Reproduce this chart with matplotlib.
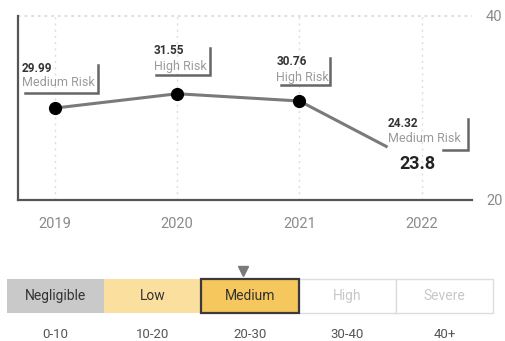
import matplotlib
matplotlib.use("Agg")
import matplotlib.pyplot as plt
import matplotlib.transforms as mtransforms

plt.rcParams['font.family'] = ['Roboto', 'DejaVu Sans']

# ---- data ----
years = [2019, 2020, 2021, 2022]
scores = [29.99, 31.55, 30.76, 23.8]
label_values = ["29.99", "31.55", "30.76", "24.32"]
label_risks = ["Medium Risk", "High Risk", "High Risk", "Medium Risk"]
current_score = "23.8"
scale_names = ["Negligible", "Low", "Medium", "High", "Severe"]
scale_ranges = ["0-10", "10-20", "20-30", "30-40", "40+"]
marker_value = 24.32
y_ticks = [20, 40]

W, H = 505, 341
fig = plt.figure(figsize=(W / 100, H / 100), dpi=100)


def px_axes(l, t, r, b):
    return fig.add_axes([l / W, (H - b) / H, (r - l) / W, (b - t) / H])


ax = px_axes(18, 16, 472, 200)
ax.set_xlim(2018.70, 2022.41)
ax.set_ylim(20, 40)

for s in ["top", "right"]:
    ax.spines[s].set_visible(False)
for s in ["left", "bottom"]:
    ax.spines[s].set_color("#555555")
    ax.spines[s].set_linewidth(1.6)

ax.set_xticks(years)
ax.set_xticklabels([str(y) for y in years])
ax.yaxis.tick_right()
ax.set_yticks(y_ticks)
ax.tick_params(axis="x", length=0, pad=12, labelsize=10.5, labelcolor="#8a8a8a")
ax.tick_params(axis="y", length=0, pad=10, labelsize=10.5, labelcolor="#8a8a8a")

# grid
for y in years:
    ax.plot([y, y], [20, 40], color="#dddddd", lw=1, ls=(0, (1.5, 3)), zorder=1)
ax.plot([2018.70, 2022.41], [40, 40], color="#d5d5d5", lw=1.2, ls=(0, (1.5, 2.5)),
        zorder=1, clip_on=False)

# line (last segment drawn partially)
frac = 0.72
xs = years[:3] + [years[2] + frac * (years[3] - years[2])]
ys = scores[:3] + [scores[2] + frac * (scores[3] - scores[2])]
ax.plot(xs, ys, color="#7a7a7a", lw=2.2, zorder=2, solid_capstyle="butt")
ax.plot(years[:3], scores[:3], "o", color="black", ms=8.5, zorder=3)

# annotations
text_off = [(-33, 40, 26), (-23, 43, 27), (-23, 40, 24), (-34, 42, 27)]
brackets = [(-30, 43, 15, 43), (-21, 33, 19, 46), (-18, 31, 16, 43), (21, 46, 15, 46)]
fig.canvas.draw()
for i, (yr, sc) in enumerate(zip(years, scores)):
    dx, dy1, dy2 = text_off[i]
    ax.annotate(label_values[i], xy=(yr, sc), xytext=(dx, dy1), textcoords="offset pixels",
                fontsize=8.5, fontweight="bold", color="#333333", ha="left", va="center")
    ax.annotate(label_risks[i], xy=(yr, sc), xytext=(dx, dy2), textcoords="offset pixels",
                fontsize=9, color="#9a9a9a", ha="left", va="center")
    bx0, bx1, by0, by1 = brackets[i]
    px, py = ax.transData.transform((yr, sc))
    tr = mtransforms.Affine2D().translate(px, py)
    ax.plot([bx0, bx1, bx1], [by0, by0, by1], color="#666666", lw=1.8,
            transform=tr, clip_on=False, zorder=4, solid_joinstyle="miter")

ax.annotate(current_score, xy=(years[3], scores[3]), xytext=(-4, 1), textcoords="offset pixels",
            fontsize=13, fontweight="bold", color="#222222", ha="center", va="center")

# risk scale
ax2 = px_axes(7, 279, 493, 313)
ax2.set_xlim(0, 5)
ax2.set_ylim(0, 1)
ax2.axis("off")
fills = ["#c9c9c9", "#fadf9f", "#f5c75c", "#ffffff", "#ffffff"]
edges = ["none", "none", "#3a3a3a", "#dddddd", "#dddddd"]
lws = [0, 0, 1.6, 1.0, 1.0]
tcols = ["#333333", "#333333", "#333333", "#c8c8c8", "#c8c8c8"]
for i, name in enumerate(scale_names):
    ax2.bar(i, 1, width=1, align="edge", color=fills[i], edgecolor=edges[i],
            linewidth=lws[i], zorder=3 if i == 2 else 2, clip_on=False)
    ax2.text(i + 0.5, 0.5, name, ha="center", va="center", fontsize=10, color=tcols[i], zorder=5)
    ax2.text(i + 0.5, -0.62, scale_ranges[i], ha="center", va="center", fontsize=9.5,
             color="#555555", clip_on=False)
ax2.plot([marker_value / 10], [1.23], marker="v", color="#7a7a7a", ms=7, clip_on=False)

fig.savefig("out.png", dpi=100)
